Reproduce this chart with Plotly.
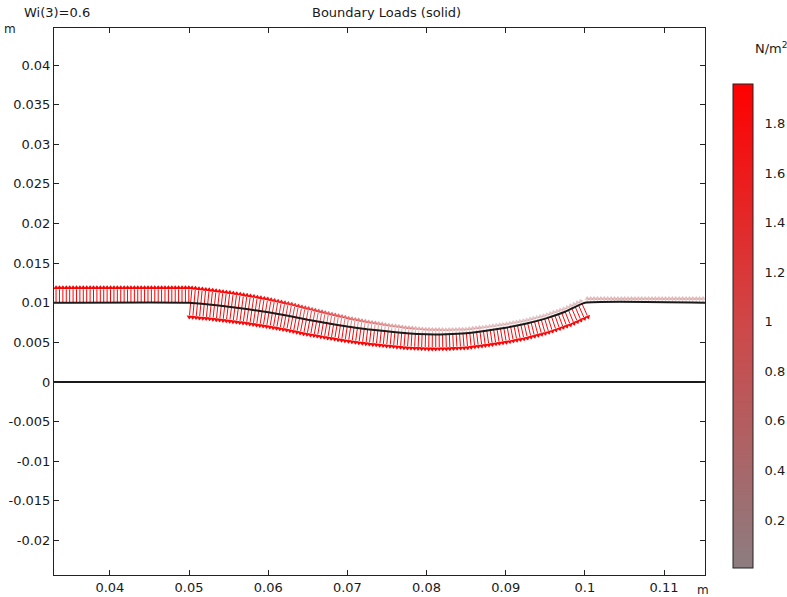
import numpy as np
import plotly.graph_objects as go

# ---------------- data ----------------
# upstream flat wall (inlet side)
inlet_x = [0.0329, 0.05]
inlet_y = [0.01, 0.01]
inlet_up = [1.95, 1.95]          # N/m^2, load pointing up

# deformed flexible wall
def_x = [0.05, 0.0525, 0.055, 0.0575, 0.06, 0.0625, 0.065, 0.0675, 0.07, 0.0725,
         0.075, 0.0775, 0.08, 0.0825, 0.085, 0.0875, 0.09, 0.0925, 0.095, 0.0975, 0.1]
def_y = [0.0100, 0.00978, 0.00950, 0.00918, 0.00880, 0.00836, 0.00785, 0.00741, 0.00700, 0.00666,
         0.00640, 0.00615, 0.00602, 0.00603, 0.00615, 0.00647, 0.00685, 0.00735, 0.00800, 0.00886, 0.0100]
def_up = [1.95, 1.9, 1.85, 1.78, 1.7, 1.6, 1.5, 1.35, 1.2, 1.08,
          0.95, 0.87, 0.8, 0.75, 0.7, 0.67, 0.65, 0.62, 0.6, 0.6, 0.6]
def_down = [1.85, 1.85, 1.86, 1.86, 1.87, 1.87, 1.88, 1.88, 1.89, 1.89,
            1.9, 1.9, 1.9, 1.9, 1.89, 1.89, 1.88, 1.87, 1.86, 1.85, 1.85]

# downstream flat wall (outlet side)
outlet_x = [0.1, 0.1152]
outlet_y = [0.01, 0.01]
outlet_up = [0.72, 0.72]

# channel floor
floor_x = [0.0329, 0.1152]
floor_y = [0.0, 0.0]

x_tickvals = [0.04, 0.05, 0.06, 0.07, 0.08, 0.09, 0.1, 0.11]
x_ticktext = ["0.04", "0.05", "0.06", "0.07", "0.08", "0.09", "0.1", "0.11"]
y_tickvals = [-0.02, -0.015, -0.01, -0.005, 0, 0.005, 0.01, 0.015, 0.02, 0.025, 0.03, 0.035, 0.04]
y_ticktext = ["-0.02", "-0.015", "-0.01", "-0.005", "0", "0.005", "0.01", "0.015", "0.02",
              "0.025", "0.03", "0.035", "0.04"]
cb_tickvals = [0.2, 0.4, 0.6, 0.8, 1.0, 1.2, 1.4, 1.6, 1.8]
cb_ticktext = ["0.2", "0.4", "0.6", "0.8", "1", "1.2", "1.4", "1.6", "1.8"]
cmin, cmax = 0.006, 1.96

# ---------------- styling ----------------
LEN_SCALE = 0.0011   # m of arrow per N/m^2
SPACING = 0.00043    # arrow spacing along x (m)
HEAD = 0.00045       # arrowhead length (m)
cs_pts = [(0.0, (140, 125, 128)), (0.5, (206, 72, 74)), (1.0, (255, 0, 0))]
colorscale = [[p, "rgb(%d,%d,%d)" % c] for p, c in cs_pts]
FONT = "DejaVu Sans"

W, H = 787, 597
PL, PR, PT, PB = 54, 705, 28, 575          # plot box in window pixels
PW, PH = PR - PL, PB - PT
CB_L, CB_R, CB_T, CB_B = 733, 753, 84, 568  # colorbar box in window pixels


def px(xw):
    return (xw - PL) / PW


def py(yw):
    return (PB - yw) / PH


def color_of(v):
    t = min(max((v - cmin) / (cmax - cmin), 0), 1)
    for (p0, c0), (p1, c1) in zip(cs_pts[:-1], cs_pts[1:]):
        if t <= p1:
            f = (t - p0) / (p1 - p0)
            return tuple(c0[i] + f * (c1[i] - c0[i]) for i in range(3))
    return cs_pts[-1][1]


def alpha_of(v):
    return float(np.clip(0.3 + 0.7 * (v - 0.55) / 1.2, 0.3, 1.0))


shafts = {}
heads_x, heads_y, heads_c, heads_a = [], [], [], []


def add_arrows(sx, sy, sv, direction, x0, x1):
    sx = np.asarray(sx, float)
    sy = np.asarray(sy, float)
    slope_nodes = np.gradient(sy, sx) if len(sx) > 2 else np.zeros(len(sx))
    xs = np.arange(x0, x1, SPACING)
    ys = np.interp(xs, sx, sy)
    vs = np.interp(xs, sx, np.asarray(sv, float))
    ss = np.interp(xs, sx, slope_nodes)
    for x, y, v, s in zip(xs, ys, vs, ss):
        nrm = np.hypot(1, s)
        nx, ny = -s / nrm * direction, 1 / nrm * direction
        L = v * LEN_SCALE
        tx, ty = x + L * nx, y + L * ny
        bx, by = tx - HEAD * nx, ty - HEAD * ny
        c = color_of(v)
        a = alpha_of(v)
        key = "rgba(%d,%d,%d,%.2f)" % (round(c[0] / 4) * 4, round(c[1] / 4) * 4, round(c[2] / 4) * 4, round(a * 20) / 20)
        lst = shafts.setdefault(key, ([], []))
        lst[0].extend([x, bx, None])
        lst[1].extend([y, by, None])
        heads_x.append(tx - 0.55 * HEAD * nx)
        heads_y.append(ty - 0.55 * HEAD * ny)
        heads_c.append(key)
        heads_a.append(float(np.degrees(np.arctan2(nx, ny))))


add_arrows(inlet_x, inlet_y, inlet_up, +1, 0.0332, 0.0500)
add_arrows(def_x, def_y, def_up, +1, 0.0502, 0.0999)
add_arrows(def_x, def_y, def_down, -1, 0.0502, 0.0999)
add_arrows(outlet_x, outlet_y, outlet_up, +1, 0.1003, 0.1152)

fig = go.Figure()

for key, (xx, yy) in shafts.items():
    fig.add_trace(go.Scatter(x=xx, y=yy, mode="lines", line=dict(color=key, width=1),
                             hoverinfo="skip"))

fig.add_trace(go.Scatter(x=heads_x, y=heads_y, mode="markers",
                         marker=dict(symbol="triangle-up", size=5, color=heads_c, angle=heads_a,
                                     line=dict(width=0)),
                         hoverinfo="skip"))

# walls
wall_x = inlet_x[:-1] + def_x + outlet_x[1:]
wall_y = inlet_y[:-1] + def_y + outlet_y[1:]
fig.add_trace(go.Scatter(x=wall_x, y=wall_y, mode="lines",
                         line=dict(color="#1a1a1a", width=2, shape="spline", smoothing=0.4)))
fig.add_trace(go.Scatter(x=floor_x, y=floor_y, mode="lines", line=dict(color="#1a1a1a", width=2)))

# colorbar carrier (off-range points)
fig.add_trace(go.Scatter(x=[1, 1], y=[1, 1], mode="markers",
                         marker=dict(color=[cmin, cmax], colorscale=colorscale, cmin=cmin, cmax=cmax,
                                     showscale=True, size=1,
                                     colorbar=dict(x=px(CB_L), xanchor="left", xpad=0,
                                                   y=py(CB_T), yanchor="top", ypad=0,
                                                   thickness=CB_R - CB_L, thicknessmode="pixels",
                                                   len=CB_B - CB_T, lenmode="pixels",
                                                   outlinewidth=1, outlinecolor="#222",
                                                   tickvals=cb_tickvals, ticktext=cb_ticktext,
                                                   ticks="outside", ticklen=9,
                                                   tickcolor="rgba(0,0,0,0)",
                                                   tickfont=dict(family=FONT, size=13, color="#1a1a1a"))),
                         hoverinfo="skip"))

# inward tick marks on both edges of the colorbar
shapes = []
for v in cb_tickvals:
    yw = CB_B - (v - cmin) / (cmax - cmin) * (CB_B - CB_T)
    for xa, xb in ((CB_L, CB_L + 3), (CB_R - 3, CB_R)):
        shapes.append(dict(type="line", xref="paper", yref="paper", x0=px(xa), x1=px(xb),
                           y0=py(yw), y1=py(yw), line=dict(color="#222", width=1)))

axis_common = dict(showgrid=False, zeroline=False, showline=True, linecolor="#222", linewidth=1,
                   mirror="ticks", ticks="inside", ticklen=5, tickcolor="#222",
                   tickfont=dict(family=FONT, size=13, color="#1a1a1a"))
fig.update_layout(
    width=W, height=H,
    margin=dict(l=PL, r=W - PR, t=PT, b=H - PB, autoexpand=False),
    plot_bgcolor="white", paper_bgcolor="white",
    showlegend=False,
    hovermode=False,
    font=dict(family=FONT, size=13, color="#1a1a1a"),
    xaxis=dict(range=[0.03294, 0.11517], tickvals=x_tickvals, ticktext=x_ticktext, **axis_common),
    yaxis=dict(range=[-0.02435, 0.04467], tickvals=y_tickvals, ticktext=y_ticktext, **axis_common),
    shapes=shapes,
    annotations=[
        dict(text="Boundary Loads (solid)", xref="paper", yref="paper", x=px(386),
             y=py(12), xanchor="center", yanchor="middle", showarrow=False,
             font=dict(family=FONT, size=13)),
        dict(text="Wi(3)=0.6", xref="paper", yref="paper", x=px(22),
             y=py(12), xanchor="left", yanchor="middle", showarrow=False,
             font=dict(family=FONT, size=13)),
        dict(text="m", xref="paper", yref="paper", x=px(10),
             y=py(29), xanchor="center", yanchor="middle", showarrow=False,
             font=dict(family=FONT, size=12)),
        dict(text="m", xref="paper", yref="paper", x=px(703),
             y=py(590), xanchor="center", yanchor="middle", showarrow=False,
             font=dict(family=FONT, size=12)),
        dict(text="N/m<sup>2</sup>", xref="paper", yref="paper", x=px(771),
             y=py(48), xanchor="center", yanchor="middle", showarrow=False,
             font=dict(family=FONT, size=13)),
    ],
)

fig.write_html("out.html", config={"displayModeBar": False},
               post_script="document.body.style.margin='0';document.body.style.overflow='hidden';")
